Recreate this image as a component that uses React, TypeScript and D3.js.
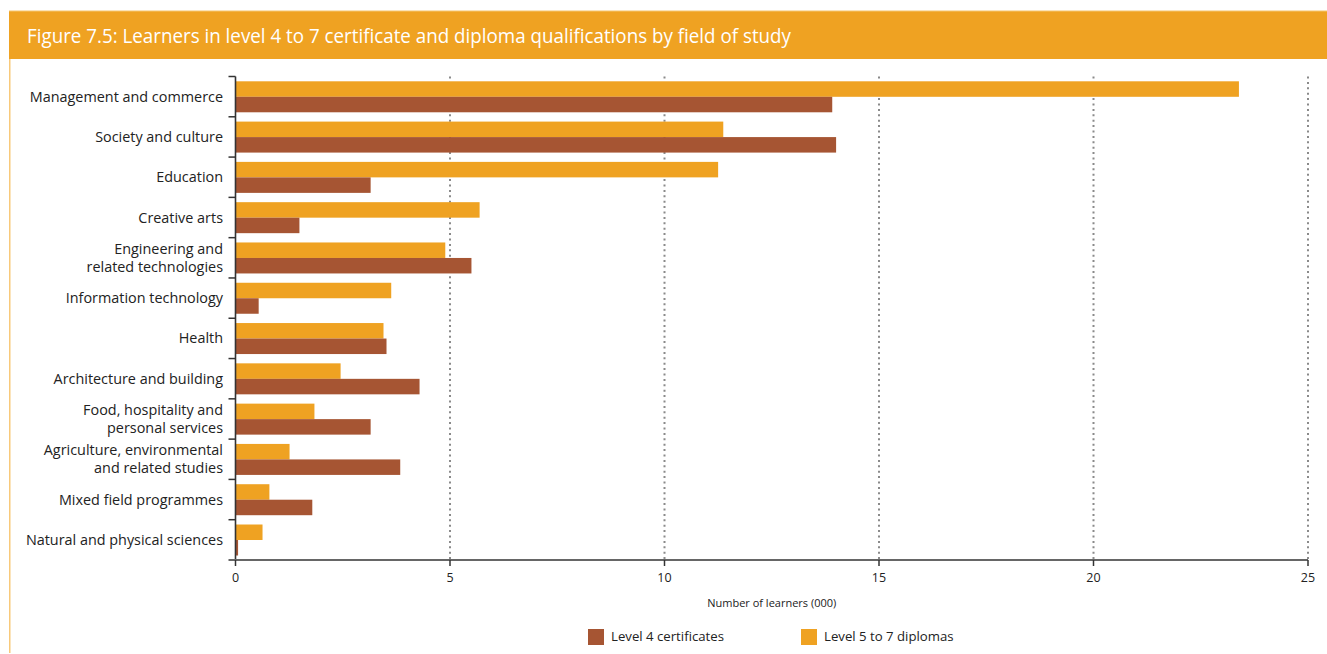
import React from "react";
import * as d3 from "d3";

const categories: string[][] = [
  ["Management and commerce"],
  ["Society and culture"],
  ["Education"],
  ["Creative arts"],
  ["Engineering and", "related technologies"],
  ["Information technology"],
  ["Health"],
  ["Architecture and building"],
  ["Food, hospitality and", "personal services"],
  ["Agriculture, environmental", "and related studies"],
  ["Mixed field programmes"],
  ["Natural and physical sciences"],
];
const level4: number[] = [13.91, 14.0, 3.15, 1.49, 5.5, 0.54, 3.52, 4.29, 3.15, 3.84, 1.79, 0.06];
const level57: number[] = [23.39, 11.37, 11.25, 5.69, 4.89, 3.63, 3.45, 2.45, 1.84, 1.26, 0.79, 0.63];
const xTicks: number[] = [0, 5, 10, 15, 20, 25];
const seriesNames = ["Level 4 certificates", "Level 5 to 7 diplomas"];
const title = "Figure 7.5: Learners in level 4 to 7 certificate and diploma qualifications by field of study";
const xTitle = "Number of learners (000)";

const ORANGE = "#EFA222";
const BROWN = "#A65533";
const FONT = "'Open Sans', 'DejaVu Sans', sans-serif";

export default function App() {
  const W = 1327, H = 654;
  const left = 235.5, right = 1308, top = 76.5, bottom = 560;
  const x = d3.scaleLinear().domain([0, 25]).range([left, right]);
  const y = d3.scaleBand<number>().domain(d3.range(categories.length)).range([top, bottom]).paddingInner(0).paddingOuter(0);
  const bw = y.bandwidth();
  const padTop = 4.8;
  const barH = (bw - padTop - 4.5) / 2;

  return (
    <svg width={W} height={H} style={{ position: "absolute", left: 0, top: 0, fontFamily: FONT }}>
      <rect x={0} y={0} width={W} height={H} fill="#fff" />
      {/* title bar */}
      <rect x={9} y={11} width={W - 9} height={48} fill={ORANGE} />
      <rect x={9} y={10.5} width={W - 9} height={1} fill="#F6C56E" />
      <text x={27} y={43} fill="#fff" fontSize={19.5} textLength={764} lengthAdjust="spacingAndGlyphs">{title}</text>
      {/* left border */}
      <rect x={9} y={59} width={1.5} height={H - 59 - 1} fill="#F8C97A" />

      {/* grid lines */}
      {xTicks.filter((t) => t > 0).map((t) => (
        <line key={"g" + t} x1={x(t)} x2={x(t)} y1={top} y2={bottom} stroke="#8a8a8a" strokeWidth={2} strokeDasharray="2 3.4" />
      ))}

      {/* bars */}
      {categories.map((_, i) => (
        <g key={"b" + i}>
          <rect x={x(0)} y={(y(i) as number) + padTop} width={x(level57[i]) - x(0)} height={barH} fill={ORANGE} />
          <rect x={x(0)} y={(y(i) as number) + padTop + barH} width={x(level4[i]) - x(0)} height={barH} fill={BROWN} />
        </g>
      ))}

      {/* y axis */}
      <line x1={left} x2={left} y1={top} y2={bottom} stroke="#333" strokeWidth={1.6} />
      {d3.range(categories.length).map((i) => (
        <line key={"yt" + i} x1={left - 7} x2={left} y1={y(i) as number} y2={y(i) as number} stroke="#333" strokeWidth={1.5} />
      ))}
      {/* category labels */}
      {categories.map((lines, i) => {
        const cy = (y(i) as number) + bw / 2;
        const lh = 18;
        const y0 = cy - ((lines.length - 1) * lh) / 2 + 5;
        return (
          <text key={"l" + i} textAnchor="end" fontSize={14.4} fill="#222">
            {lines.map((ln, k) => (
              <tspan key={k} x={223} y={y0 + k * lh}>{ln}</tspan>
            ))}
          </text>
        );
      })}

      {/* x axis */}
      <line x1={left - 7} x2={right} y1={bottom} y2={bottom} stroke="#666" strokeWidth={2} />
      {xTicks.map((t) => (
        <g key={"xt" + t}>
          <line x1={x(t)} x2={x(t)} y1={bottom} y2={bottom + 6} stroke="#333" strokeWidth={1.5} />
          <text x={x(t)} y={582} textAnchor="middle" fontSize={12.5} fill="#222">{t}</text>
        </g>
      ))}
      <text x={(left + right) / 2} y={607} textAnchor="middle" fontSize={11} fill="#222">{xTitle}</text>

      {/* legend */}
      <rect x={588} y={629} width={16} height={16} fill={BROWN} />
      <text x={611} y={641} fontSize={13.2} fill="#222">{seriesNames[0]}</text>
      <rect x={801} y={629} width={16} height={16} fill={ORANGE} />
      <text x={824} y={641} fontSize={13.2} fill="#222">{seriesNames[1]}</text>
    </svg>
  );
}
